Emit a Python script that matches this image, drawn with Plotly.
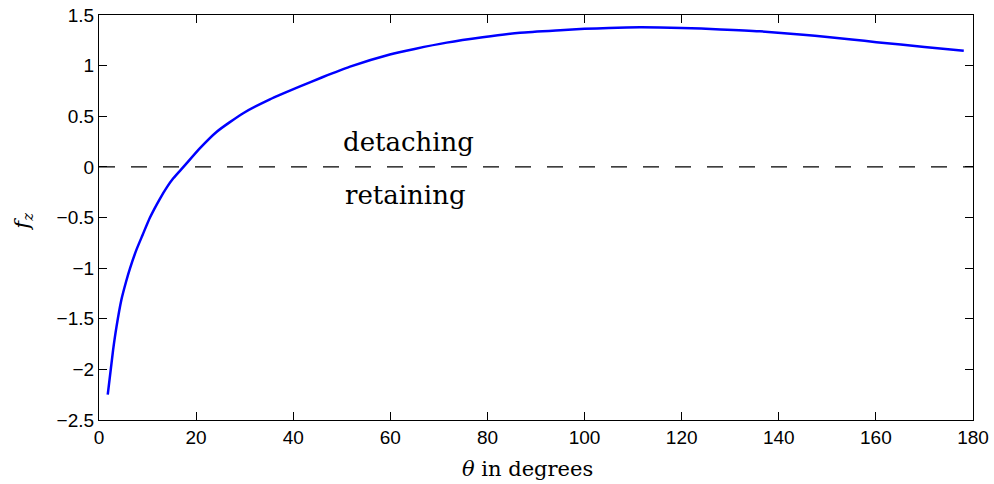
import plotly.graph_objects as go

# Curve (theta in degrees, f_z)
theta = [1.8, 2.9, 3.6, 4.6, 5.6, 6.4, 7.7, 9, 10.5, 12.6, 14, 15.3, 17.4, 20.8,
         24.2, 29.7, 35.2, 41.4, 46, 51.7, 59.9, 65, 71.6, 79, 86.7, 95, 100,
         105, 111.4, 120, 128, 136.1, 145, 150, 155, 160.1, 170, 178.1]
f_z = [-2.25, -1.81, -1.58, -1.315, -1.13, -1.0, -0.82, -0.67, -0.5, -0.31, -0.2,
       -0.113, 0.0, 0.185, 0.345, 0.53, 0.667, 0.795, 0.885, 0.99, 1.11, 1.165,
       1.227, 1.28, 1.325, 1.35, 1.363, 1.372, 1.378, 1.372, 1.358, 1.339, 1.305,
       1.282, 1.258, 1.232, 1.185, 1.148]

x_ticks = [0, 20, 40, 60, 80, 100, 120, 140, 160, 180]
y_ticks = [-2.5, -2, -1.5, -1, -0.5, 0, 0.5, 1, 1.5]

SERIF = "DejaVu Serif, Liberation Serif, serif"
SANS = "Liberation Sans, Arial, sans-serif"

fig = go.Figure()
fig.add_hline(y=0, line=dict(color="black", width=1.3, dash="16px,16px"))
fig.add_trace(go.Scatter(
    x=theta, y=f_z, mode="lines",
    line=dict(color="#0000FF", width=2.5, shape="spline", smoothing=0.6),
    showlegend=False,
))

fig.add_annotation(x=63.8, y=0.25, text="detaching", showarrow=False,
                   font=dict(family=SERIF, size=26, color="black"))
fig.add_annotation(x=63.2, y=-0.28, text="retaining", showarrow=False,
                   font=dict(family=SERIF, size=26, color="black"))

# axis titles placed as annotations to match the reference offsets
fig.add_annotation(xref="paper", yref="paper", x=0.49, y=-0.12,
                   xanchor="center", yanchor="middle",
                   text="<i>θ</i> in degrees", showarrow=False,
                   font=dict(family=SERIF, size=21, color="black"))
fig.add_annotation(xref="paper", yref="paper", x=-0.088, y=0.49,
                   xanchor="center", yanchor="middle",
                   text="<i>f</i><sub><i>z</i></sub>", showarrow=False,
                   textangle=-90,
                   font=dict(family=SERIF, size=21, color="black"))

axis_style = dict(
    showgrid=False, zeroline=False, automargin=False,
    showline=True, linecolor="black", linewidth=1.3, mirror="ticks",
    ticks="inside", ticklen=8, tickwidth=1.2, tickcolor="black",
    tickfont=dict(family=SANS, size=19, color="black"),
)

fig.update_xaxes(range=[0, 180], tickvals=x_ticks, **axis_style)
fig.update_yaxes(range=[-2.5, 1.5], tickvals=y_ticks, **axis_style)

fig.update_layout(
    width=994, height=484,
    margin=dict(l=99, r=21, t=15, b=64),
    plot_bgcolor="white", paper_bgcolor="white",
)

fig.write_html("out.html", config={"displayModeBar": False},
               post_script="document.body.style.margin='0';")
